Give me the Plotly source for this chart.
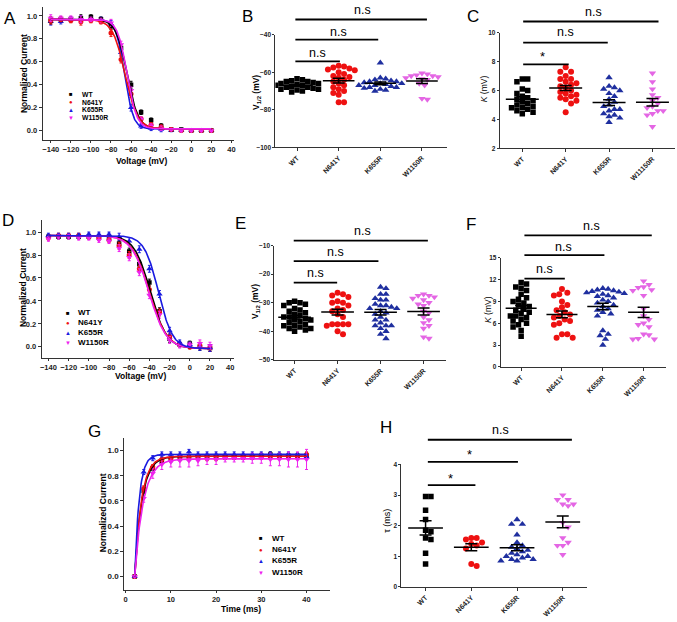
import numpy as np
import plotly.graph_objects as go

FIG_W, FIG_H = 677, 622

GROUPS = ["WT", "N641Y", "K655R", "W1150R"]
GROUPS_C = ["WT", "N641Y", "K655R", "W11150R"]

# ---------------- Panel A: steady-state inactivation ----------------
VOLT = [-140, -130, -120, -110, -100, -90, -80, -70, -60, -50, -40, -30, -20, -10, 0, 10, 20]
A_WT = [0.96, 0.97, 0.97, 0.98, 0.99, 0.97, 0.91, 0.72, 0.40, 0.16, 0.09, 0.04, 0.01, 0.01, 0.0, 0.0, 0.0]
A_N641Y = [0.96, 0.97, 0.96, 0.95, 0.96, 0.95, 0.85, 0.62, 0.32, 0.10, 0.05, 0.03, 0.01, 0.0, 0.0, 0.0, 0.0]
A_K655R = [0.95, 0.95, 0.97, 0.97, 0.98, 0.97, 0.93, 0.68, 0.20, 0.04, 0.02, 0.01, 0.0, 0.0, 0.0, 0.0, 0.0]
A_W1150R = [0.98, 0.98, 0.98, 0.97, 0.97, 0.96, 0.94, 0.75, 0.35, 0.10, 0.04, 0.02, 0.01, 0.0, 0.0, 0.0, 0.0]
A_ERR = [0.03, 0.02, 0.02, 0.03, 0.02, 0.02, 0.03, 0.03, 0.03, 0.02, 0.02, 0.02, 0.01, 0.01, 0.01, 0.01, 0.01]
A_VHALF = [-64.0, -66.0, -66.5, -64.0]
A_SLOPE = [5.5, 6.2, 4.3, 4.8]

# ---------------- Panel D: steady-state activation ----------------
D_WT = [0.96, 0.96, 0.96, 0.96, 0.96, 0.95, 0.94, 0.90, 0.83, 0.72, 0.56, 0.31, 0.07, 0.02, 0.03, 0.0, -0.01]
D_N641Y = [0.95, 0.97, 0.97, 0.97, 0.96, 0.95, 0.93, 0.88, 0.80, 0.68, 0.50, 0.30, 0.09, 0.02, 0.0, 0.01, -0.01]
D_K655R = [0.97, 0.97, 0.97, 0.97, 0.98, 0.98, 0.98, 0.96, 0.92, 0.85, 0.68, 0.46, 0.14, 0.04, 0.02, 0.0, -0.01]
D_W1150R = [0.94, 0.96, 0.96, 0.95, 0.95, 0.93, 0.92, 0.86, 0.78, 0.65, 0.45, 0.28, 0.06, 0.01, 0.02, 0.03, 0.01]
D_ERR = [0.02, 0.02, 0.02, 0.02, 0.02, 0.02, 0.02, 0.03, 0.03, 0.03, 0.03, 0.03, 0.03, 0.02, 0.02, 0.03, 0.03]
D_VHALF = [-39.0, -40.0, -31.0, -40.5]
D_SLOPE = [8.0, 8.5, 7.0, 8.5]

# ---------------- Panel G: recovery time course ----------------
TIME = [2, 4, 6, 8, 10, 12, 14, 16, 18, 20, 22, 24, 26, 28, 30, 32, 34, 36, 38, 40]
G_WT = [0.0, 0.68, 0.86, 0.92, 0.93, 0.94, 0.94, 0.95, 0.95, 0.95, 0.95, 0.95, 0.95, 0.95, 0.96, 0.97, 0.96, 0.96, 0.96, 0.96]
G_N641Y = [0.0, 0.70, 0.87, 0.93, 0.94, 0.95, 0.95, 0.95, 0.94, 0.94, 0.95, 0.95, 0.95, 0.95, 0.95, 0.95, 0.95, 0.95, 0.95, 0.97]
G_K655R = [0.0, 0.83, 0.94, 0.97, 0.97, 0.97, 0.99, 0.97, 0.97, 0.97, 0.97, 0.97, 0.97, 0.97, 0.97, 0.97, 0.97, 0.97, 0.96, 0.95]
G_W1150R = [0.0, 0.62, 0.82, 0.89, 0.91, 0.92, 0.92, 0.92, 0.93, 0.93, 0.94, 0.94, 0.94, 0.94, 0.94, 0.93, 0.93, 0.93, 0.93, 0.93]
G_ERR_WT = [0.0, 0.02, 0.02, 0.02, 0.02, 0.02, 0.02, 0.02, 0.02, 0.02, 0.02, 0.02, 0.02, 0.02, 0.02, 0.02, 0.02, 0.02, 0.02, 0.02]
G_ERR_W1150R = [0.0, 0.03, 0.04, 0.04, 0.04, 0.05, 0.05, 0.04, 0.04, 0.04, 0.03, 0.03, 0.03, 0.04, 0.04, 0.05, 0.05, 0.06, 0.06, 0.08]
G_AMP = [0.955, 0.955, 0.97, 0.935]
G_TAU = [1.6, 1.5, 1.0, 1.9]

# ---------------- Scatter panels ----------------
B_WT = [-63.5, -64, -64.5, -65, -65, -65.5, -66, -66, -66.5, -67, -67, -67.5, -68, -68, -68.5, -69, -69, -69.5, -70, -70.5]
B_N641Y = [-56.5, -57, -57.5, -58, -58.5, -59, -60, -61, -62, -62.5, -63, -64, -65, -66, -67, -68, -69, -70, -71, -72, -76, -76]
B_K655R = [-55, -63, -63.5, -64, -64.5, -65, -65, -65.5, -66, -66, -66.5, -67, -67, -67.5, -68, -68, -68.5, -69, -69.5, -70]
B_W1150R = [-60.5, -61, -61.5, -62, -62, -62.5, -63, -63.5, -64, -66, -67, -74, -74.5]

C_WT = [6.8, 6.8, 6.6, 6.1, 6.0, 5.8, 5.6, 5.5, 5.4, 5.3, 5.2, 5.1, 5.0, 4.9, 4.8, 4.8, 4.7, 4.6, 4.5, 4.4]
C_N641Y = [7.6, 7.3, 7.3, 7.0, 6.8, 6.8, 6.6, 6.5, 6.4, 6.3, 6.2, 6.0, 5.9, 5.8, 5.7, 5.6, 5.5, 5.4, 5.3, 5.1, 4.5]
C_K655R = [6.9, 6.3, 6.2, 6.1, 6.0, 5.8, 5.6, 5.4, 5.2, 5.0, 4.9, 4.7, 4.7, 4.6, 4.4, 4.3, 4.2, 4.1, 3.8]
C_W1150R = [7.2, 6.6, 6.1, 5.7, 5.5, 5.3, 5.1, 4.9, 4.8, 4.6, 4.6, 4.4, 4.3, 3.5]

E_WT = [-29.5, -30, -30, -30.5, -31, -32, -32.5, -33, -33.5, -34, -34.5, -35, -35, -35.5, -36, -36, -36.5, -37, -37.5, -38, -38, -38.5, -39, -39, -39.5, -40]
E_N641Y = [-26.5, -27, -27.5, -28, -29.5, -30, -30, -31, -32, -32.5, -33, -34, -35, -37.5, -37.5, -37.5, -37.5, -38, -40, -41]
E_K655R = [-24.5, -25, -27, -27, -28.5, -29, -29, -30.5, -31, -31, -31.5, -32, -32, -33, -33.5, -34, -35, -36, -36, -37, -38, -38, -38, -39, -40, -41, -42.5]
E_W1150R = [-27, -27.5, -27.5, -28, -28.5, -29, -30, -30.5, -31, -33, -33.5, -35, -36, -37, -38, -39, -42, -42.5]

F_WT = [11.6, 11.4, 11.0, 10.8, 10.5, 10.0, 9.5, 9.3, 9.0, 8.8, 8.5, 8.3, 8.0, 7.8, 7.5, 7.3, 7.0, 7.0, 6.8, 6.5, 6.3, 6.0, 5.8, 5.5, 5.0, 4.2]
F_N641Y = [10.7, 10.2, 10.0, 9.8, 9.0, 8.5, 8.2, 7.8, 7.5, 7.2, 7.0, 6.8, 6.5, 6.3, 6.0, 5.8, 4.5, 4.5, 4.0, 4.0]
F_K655R = [10.8, 10.7, 10.6, 10.5, 10.4, 10.3, 10.2, 10.1, 10.0, 9.8, 9.7, 9.5, 9.2, 9.0, 8.8, 8.5, 8.3, 8.0, 7.8, 7.5, 7.3, 7.0, 5.0, 4.5, 4.3, 3.8, 3.0]
F_W1150R = [11.8, 11.3, 11.0, 10.9, 10.6, 10.5, 9.8, 8.0, 7.0, 6.5, 6.0, 5.8, 5.5, 4.5, 4.4, 3.9, 3.8, 3.8]

H_WT = [2.95, 2.95, 2.5, 2.2, 1.85, 1.8, 1.6, 1.55, 1.1, 0.75]
H_N641Y = [1.6, 1.6, 1.55, 1.45, 1.4, 1.35, 1.25, 0.75, 0.68]
H_K655R = [2.2, 2.05, 2.05, 1.7, 1.45, 1.35, 1.3, 1.25, 1.2, 1.15, 1.1, 1.05, 1.0, 1.0, 0.95, 0.9, 0.9, 0.85, 0.85]
H_W1150R = [3.0, 2.85, 2.85, 2.7, 2.7, 2.65, 2.1, 1.95, 1.6, 1.45, 1.35, 1.35, 1.05]

# ---------------- styling ----------------
CURVE_COLORS = ["#000000", "#ee1111", "#1a1ae0", "#ee22ee"]
DOT_COLORS = ["#000000", "#ee1111", "#1f2f9f", "#e466e4"]
SYMBOLS = ["square", "circle", "triangle-up", "triangle-down"]
SYM_SIZES = [4.5, 5, 5.5, 5.5]
DOT_SIZES = [5.5, 6, 6.5, 6.5]
FONT = "Liberation Sans, Arial, sans-serif"
AX_COLOR = "#333333"


def px(x):
    return x / FIG_W


def py(y):
    return 1 - y / FIG_H


fig = go.Figure()
layout = dict(width=FIG_W, height=FIG_H, autosize=False,
              margin=dict(l=0, r=0, t=0, b=0),
              paper_bgcolor="white", plot_bgcolor="white",
              showlegend=False, font=dict(family=FONT, color="black"))
shapes, annots = [], []


def axref(n):
    return ("x", "y") if n == 1 else (f"x{n}", f"y{n}")


def add_axes(n, xdom, ydom, xrange, yrange, xkw=None, ykw=None):
    xa = "xaxis" if n == 1 else f"xaxis{n}"
    ya = "yaxis" if n == 1 else f"yaxis{n}"
    xr, yr = axref(n)
    base = dict(showline=True, linecolor=AX_COLOR, linewidth=1, ticks="outside",
                ticklen=3, tickwidth=1, tickcolor=AX_COLOR, showgrid=False,
                zeroline=False, fixedrange=True)
    xd = dict(base, domain=[px(xdom[0]), px(xdom[1])], range=xrange, anchor=yr)
    yd = dict(base, domain=[py(ydom[1]), py(ydom[0])], range=yrange, anchor=xr)
    xd.update(xkw or {})
    yd.update(ykw or {})
    layout[xa] = xd
    layout[ya] = yd


def text(x, y, s, size=9, bold=False, angle=0, xanchor="center", color="black"):
    annots.append(dict(x=px(x), y=py(y), xref="paper", yref="paper", text=s,
                       showarrow=False, xanchor=xanchor, yanchor="middle", textangle=angle,
                       font=dict(family=FONT, size=size, color=color,
                                 weight="bold" if bold else "normal")))


def boltz(v, vh, k, top, bot):
    return bot + (top - bot) / (1 + np.exp((v - vh) / k))


def tickfont(size):
    return dict(tickfont=dict(family=FONT, size=size, weight="bold", color="#222"))


# ---------- Panel A ----------
add_axes(1, (41, 233), (3, 138), [-148, 42.2], [-0.086, 1.078],
         dict(tickvals=list(range(-140, 41, 20)), ticklen=2, **tickfont(7.5)),
         dict(tickvals=[0, 0.2, 0.4, 0.6, 0.8, 1.0], tickformat=".1f", **tickfont(7.5)))
vfine = np.linspace(-140, 20, 321)
A_SERIES = [A_WT, A_N641Y, A_K655R, A_W1150R]
for i in [2, 0, 1, 3]:
    fig.add_trace(go.Scatter(x=VOLT, y=A_SERIES[i], mode="markers", xaxis="x", yaxis="y",
                             marker=dict(symbol=SYMBOLS[i], size=SYM_SIZES[i], color=CURVE_COLORS[i]),
                             error_y=dict(type="data", array=A_ERR, color=CURVE_COLORS[i], thickness=1, width=1.5)))
for i in [2, 0, 1, 3]:
    fig.add_trace(go.Scatter(x=vfine, y=boltz(vfine, A_VHALF[i], A_SLOPE[i], 0.97, 0.015), mode="lines",
                             xaxis="x", yaxis="y", line=dict(color=CURVE_COLORS[i], width=1.6)))

# ---------- Panel D ----------
add_axes(4, (40, 233), (218, 358), [-146.6, 43.4], [-0.097, 1.109],
         dict(tickvals=list(range(-140, 41, 20)), ticklen=2, **tickfont(7.5)),
         dict(tickvals=[0, 0.2, 0.4, 0.6, 0.8, 1.0], tickformat=".1f", **tickfont(7.5)))
D_SERIES = [D_WT, D_N641Y, D_K655R, D_W1150R]
for i in [0, 1, 2, 3]:
    fig.add_trace(go.Scatter(x=VOLT, y=D_SERIES[i], mode="markers", xaxis="x4", yaxis="y4",
                             marker=dict(symbol=SYMBOLS[i], size=SYM_SIZES[i], color=CURVE_COLORS[i]),
                             error_y=dict(type="data", array=D_ERR, color=CURVE_COLORS[i], thickness=1, width=1.5)))
for i in [0, 1, 3, 2]:
    fig.add_trace(go.Scatter(x=vfine, y=boltz(vfine, D_VHALF[i], D_SLOPE[i], 0.97, -0.015), mode="lines",
                             xaxis="x4", yaxis="y4", line=dict(color=CURVE_COLORS[i], width=1.6)))

# ---------- Panel G ----------
add_axes(7, (123, 330), (439, 592.7), [-0.3, 45.2], [-0.108, 1.10],
         dict(tickvals=[0, 10, 20, 30, 40], ticklen=2, **tickfont(7.5)),
         dict(tickvals=[0, 0.2, 0.4, 0.6, 0.8, 1.0], tickformat=".1f", **tickfont(8)))
G_SERIES = [G_WT, G_N641Y, G_K655R, G_W1150R]
G_ERRS = [G_ERR_WT, G_ERR_WT, G_ERR_WT, G_ERR_W1150R]
tfine = np.linspace(2, 40, 300)
for i in [0, 1, 2, 3]:
    fig.add_trace(go.Scatter(x=TIME, y=G_SERIES[i], mode="markers", xaxis="x7", yaxis="y7",
                             marker=dict(symbol=SYMBOLS[i], size=SYM_SIZES[i], color=CURVE_COLORS[i]),
                             error_y=dict(type="data", array=G_ERRS[i], color=CURVE_COLORS[i], thickness=1, width=1.5)))
for i in [0, 1, 2, 3]:
    fig.add_trace(go.Scatter(x=tfine, y=G_AMP[i] * (1 - np.exp(-(tfine - 2) / G_TAU[i])), mode="lines",
                             xaxis="x7", yaxis="y7", line=dict(color=CURVE_COLORS[i], width=1.6)))


# ---------- scatter (dot) panels ----------
def swarm_offsets(vals, ppu_y, ppu_x, d):
    step = d * 0.5
    placed = []
    offs = [0.0] * len(vals)
    order = sorted(range(len(vals)), key=lambda j: -vals[j])
    cands = [0.0]
    for j in range(1, 40):
        cands += [j * step, -j * step]
    for j in order:
        y = vals[j] * ppu_y
        xx = 0.0
        for c in cands:
            if all((c - a) ** 2 + (y - b) ** 2 >= d * d for a, b in placed):
                xx = c
                break
        placed.append((xx, y))
        offs[j] = xx / ppu_x
    return offs


def dot_panel(n, groups, labels, ppu_y, ppu_x, xdom, ydom, xrange, yrange, ytickvals):
    xr, yr = axref(n)
    add_axes(n, xdom, ydom, xrange, yrange,
             dict(tickvals=[0, 1, 2, 3], ticktext=labels, tickangle=-45, ticklen=3,
                  tickfont=dict(family=FONT, size=7, weight="bold", color="#222")),
             dict(tickvals=ytickvals, ticklen=2, tickfont=dict(family=FONT, size=6.5, weight="bold", color="#222")))
    for i, vals in enumerate(groups):
        offs = swarm_offsets(vals, ppu_y, ppu_x, 5.4)
        fig.add_trace(go.Scatter(x=[i + o for o in offs], y=vals, mode="markers", xaxis=xr, yaxis=yr,
                                 marker=dict(symbol=SYMBOLS[i], size=DOT_SIZES[i], color=DOT_COLORS[i])))
    for i, vals in enumerate(groups):
        arr = np.array(vals, dtype=float)
        m = arr.mean()
        sem = arr.std(ddof=1) / np.sqrt(len(arr))
        fig.add_trace(go.Scatter(x=[i - 0.38, i + 0.38], y=[m, m], mode="lines", xaxis=xr, yaxis=yr,
                                 line=dict(color="black", width=1.5)))
        fig.add_trace(go.Scatter(x=[i], y=[m], mode="markers", xaxis=xr, yaxis=yr,
                                 marker=dict(size=1, color="rgba(0,0,0,0)"),
                                 error_y=dict(type="data", array=[sem], color="black", thickness=1.5, width=6)))


def sig_bar(n, x1, y, label, lx, ly, x0=0.0, star=False):
    xr, _ = axref(n)
    shapes.append(dict(type="line", xref=xr, yref="paper", x0=x0, x1=x1, y0=py(y), y1=py(y),
                       line=dict(color="black", width=1.8)))
    text(lx, ly, label, size=13 if star else 12.5)


# B
dot_panel(2, [B_WT, B_N641Y, B_K655R, B_W1150R], GROUPS, 1.9, 41.9,
          (275, 448), (31, 145), [-0.52, 3.61], [-100, -40], [-100, -80, -60, -40])
sig_bar(2, 3.12, 15.7, "n.s", 363, 6.5, x0=-0.04)
sig_bar(2, 1.95, 36, "n.s", 338, 28, x0=-0.04)
sig_bar(2, 1.03, 58, "n.s", 317, 49.5, x0=-0.04)
# C
dot_panel(3, [C_WT, C_N641Y, C_K655R, C_W1150R], GROUPS_C, 14.5, 43.6,
          (500.7, 677), (29, 146), [-0.52, 3.52], [2, 10], [2, 4, 6, 8, 10])
sig_bar(3, 3.14, 17.7, "n.s", 595, 8, x0=0.02)
sig_bar(3, 1.97, 39, "n.s", 567, 28, x0=0.02)
sig_bar(3, 1.07, 61, "*", 544, 53, x0=0.02, star=True)
# E
dot_panel(5, [E_WT, E_N641Y, E_K655R, E_W1150R], GROUPS, 2.9, 43,
          (274, 447), (244.3, 360), [-0.47, 3.53], [-50, -10], [-50, -40, -30, -20, -10])
sig_bar(5, 3.10, 239.3, "n.s", 362.7, 229.5, x0=-0.02)
sig_bar(5, 1.95, 260, "n.s", 335, 250.5, x0=-0.02)
sig_bar(5, 0.99, 281.7, "n.s", 315, 272, x0=-0.02)
# F
dot_panel(6, [F_WT, F_N641Y, F_K655R, F_W1150R], GROUPS, 7.35, 41,
          (501.7, 668), (256.7, 367), [-0.5, 3.55], [0, 15], [0, 3, 6, 9, 12, 15])
sig_bar(6, 3.2, 234, "n.s", 592.7, 225, x0=0.08)
sig_bar(6, 2.04, 254, "n.s", 565, 246, x0=0.08)
sig_bar(6, 1.07, 277.7, "n.s", 546, 268, x0=0.08)
# H
dot_panel(8, [H_WT, H_N641Y, H_K655R, H_W1150R], GROUPS, 31, 46,
          (401.7, 588), (465.7, 589.5), [-0.53, 3.52], [0, 4], [0, 1, 2, 3, 4])
sig_bar(8, 3.2, 440.7, "n.s", 501.7, 430.5, x0=0.05)
sig_bar(8, 2.02, 463, "*", 470.7, 456, x0=0.05, star=True)
sig_bar(8, 1.09, 486.7, "*", 451, 479.5, x0=0.05, star=True)

# ---------- axis titles ----------
text(140.8, 158.5, "Voltage (mV)", size=8.5, bold=True)
text(22, 70, "Normalized Current", size=8.5, bold=True, angle=-90)
text(139, 376.5, "Voltage (mV)", size=8.5, bold=True)
text(21.7, 286.7, "Normalized Current", size=8.5, bold=True, angle=-90)
text(240, 611.5, "Time (ms)", size=8.5, bold=True)
text(101.7, 515, "Normalized Current", size=8.5, bold=True, angle=-90)
text(256.5, 89, "V<sub>1/2</sub> (mV)", size=8.5, bold=True, angle=-90)
text(485, 86, "<i>K</i> (mV)", size=8.5, angle=-90)
text(255, 301, "V<sub>1/2</sub> (mV)", size=8.5, bold=True, angle=-90)
text(488.3, 309, "<i>K</i> (mV)", size=8.5, angle=-90)
text(387, 523, "τ (ms)", size=9, angle=-90)

# ---------- panel letters ----------
for lab, x, y in [("A", 8, 15), ("B", 247, 13), ("C", 474, 13), ("D", 6, 218.5),
                  ("E", 240, 221.5), ("F", 472, 223), ("G", 93.5, 432), ("H", 386, 428.5)]:
    text(x, y, lab, size=17)

# ---------- legends ----------
LEG_SYMS = ["■", "●", "▲", "▼"]


def legend(mx, tx, rows, fsize):
    for i, ry in enumerate(rows):
        text(mx, ry, LEG_SYMS[i], size=6, color=CURVE_COLORS[i])
        text(tx, ry, GROUPS[i], size=fsize, bold=True, xanchor="left")


legend(69.5, 78, [91.5, 99.3, 107.1, 114.9], 6.8)
legend(66.7, 74, [312.3, 322.3, 332.7, 342.7], 8)
legend(260.7, 269.5, [540.5, 552, 563.3, 575], 8)

layout["shapes"] = shapes
layout["annotations"] = annots
fig.update_layout(**layout)
fig.write_html("out.html", config={"displayModeBar": False, "staticPlot": True},
               post_script="document.body.style.margin='0';")
